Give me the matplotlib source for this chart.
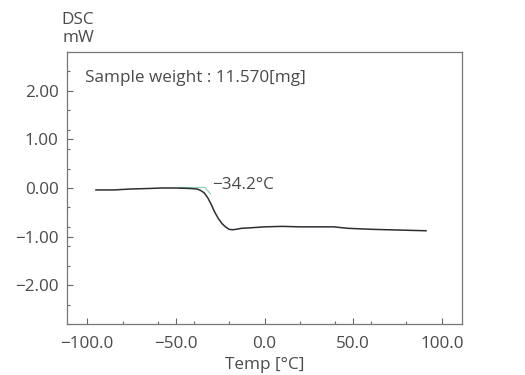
import matplotlib
matplotlib.use("Agg")
import matplotlib.pyplot as plt
from matplotlib.ticker import MultipleLocator

temp = [-95, -85, -75, -65, -58, -50, -42, -38, -36, -34, -32, -30, -28, -26, -24, -22, -20, -18, -16, -13, -8, 0, 10, 20, 30, 39, 47, 60, 70, 80, 91]
dsc = [-0.04, -0.04, -0.02, -0.01, 0.0, 0.0, -0.01, -0.02, -0.05, -0.1, -0.2, -0.34, -0.5, -0.63, -0.73, -0.8, -0.85, -0.86, -0.85, -0.83, -0.82, -0.8, -0.79, -0.8, -0.8, -0.8, -0.83, -0.85, -0.86, -0.87, -0.88]
tangent_x = [-48, -33.5, -30.5]
tangent_y = [0.01, 0.01, -0.12]

annot_temp = "−34.2°C"
sample = "Sample weight : 11.570[mg]"
xticks = [-100, -50, 0, 50, 100]
yticks = [-2, -1, 0, 1, 2]

plt.rcParams['font.family'] = ['Open Sans', 'DejaVu Sans']
gray = '#4a4a4a'
fs = 12.3
fig = plt.figure(figsize=(5.25, 3.75), dpi=100)
ax = fig.add_axes([67/525, 1-324/375, (462-67)/525, (324-52)/375])
ax.plot(tangent_x, tangent_y, color='#8fd3b8', lw=0.9)
ax.plot(temp, dsc, color='#2b2f33', lw=1.1)
ax.set_xlim(-111.3, 111.3)
ax.set_ylim(-2.8, 2.8)
ax.set_xticks(xticks)
ax.set_xticklabels([f"{v:.1f}".replace('-', '−') for v in xticks])
ax.set_yticks(yticks)
ax.set_yticklabels([f"{v:.2f}".replace('-', '−') for v in yticks])
ax.xaxis.set_minor_locator(MultipleLocator(20))
ax.yaxis.set_minor_locator(MultipleLocator(0.4))
ax.tick_params(which='both', direction='in', colors='#666666', labelcolor=gray, labelsize=fs, length=4, width=0.8)
ax.tick_params(which='minor', length=2.5)
ax.tick_params(axis='x', pad=9)
ax.tick_params(axis='y', pad=6)
for s in ax.spines.values():
    s.set_color('#777777'); s.set_linewidth(0.9)
ax.set_xlabel("Temp [°C]", color=gray, fontsize=fs, labelpad=3)
ax.text(-101, 2.26, sample, color=gray, fontsize=fs, va='center')
ax.text(-29.5, 0.07, annot_temp, color=gray, fontsize=fs, va='center')
fig.text(78/525, 1-20/375, "DSC", color=gray, fontsize=fs, ha='center', va='center')
fig.text(78/525, 1-38/375, "mW", color=gray, fontsize=fs, ha='center', va='center')
fig.savefig("out.png", dpi=100)
